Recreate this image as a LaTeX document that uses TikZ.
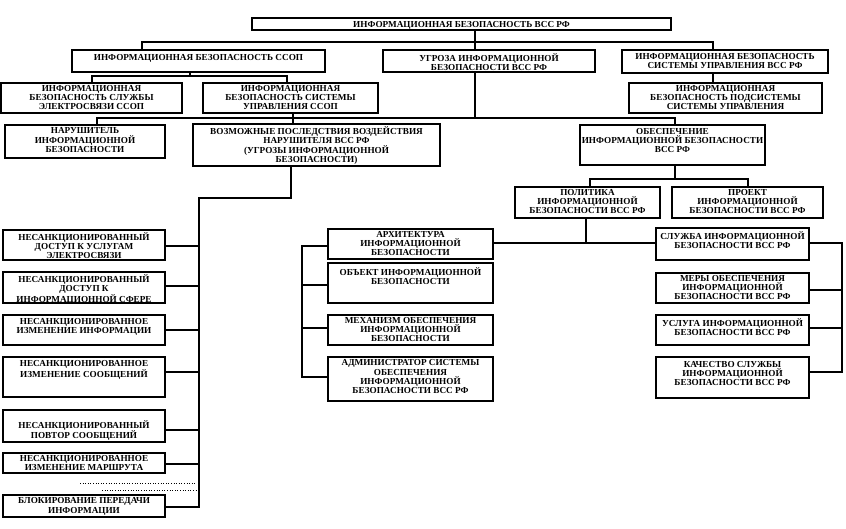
\documentclass[tikz,border=0pt]{standalone}
\usepackage{fontspec}
\setmainfont{Liberation Serif}
\begin{document}
\begin{tikzpicture}[x=1pt,y=-1pt,
  boxst/.style={draw, line width=1.6pt, inner sep=0pt, outer sep=0pt},
  txt/.style={align=center, inner sep=0pt, font=\fontsize{9.2}{9.3}\selectfont\bfseries},
  conn/.style={line width=1.5pt},
  dots/.style={line width=0.8pt, dash pattern=on 1pt off 1.6pt}]
\useasboundingbox (0,0) rectangle (846,528);
\newcommand\bx[7]{%
  \node[boxst, anchor=north west, minimum width={#4pt-#2pt}, minimum height={#5pt-#3pt}] (#1) at (#2,#3) {};
  \node[txt, anchor=north] (#1t) at ([yshift=-#6pt]#1.north) {#7};}
% top levels
\bx{T}{252}{18}{671}{30}{3}{ИНФОРМАЦИОННАЯ БЕЗОПАСНОСТЬ ВСС РФ}
\bx{S}{72}{50}{325}{72}{4}{ИНФОРМАЦИОННАЯ БЕЗОПАСНОСТЬ ССОП}
\bx{U}{383}{50}{595}{72}{3}{УГРОЗА ИНФОРМАЦИОННОЙ\\БЕЗОПАСНОСТИ ВСС РФ}
\bx{V}{622}{50}{828}{73}{3}{ИНФОРМАЦИОННАЯ БЕЗОПАСНОСТЬ\\СИСТЕМЫ УПРАВЛЕНИЯ ВСС РФ}
\bx{S1}{1}{83}{182}{113}{2}{ИНФОРМАЦИОННАЯ\\БЕЗОПАСНОСТЬ СЛУЖБЫ\\ЭЛЕКТРОСВЯЗИ ССОП}
\bx{S2}{203}{83}{378}{113}{2}{ИНФОРМАЦИОННАЯ\\БЕЗОПАСНОСТЬ СИСТЕМЫ\\УПРАВЛЕНИЯ ССОП}
\bx{V1}{629}{83}{822}{113}{2}{ИНФОРМАЦИОННАЯ\\БЕЗОПАСНОСТЬ  ПОДСИСТЕМЫ\\СИСТЕМЫ УПРАВЛЕНИЯ}
\bx{N}{5}{125}{165}{158}{2.5}{НАРУШИТЕЛЬ\\ИНФОРМАЦИОННОЙ\\БЕЗОПАСНОСТИ}
\bx{P}{193}{124}{440}{166}{2.5}{ВОЗМОЖНЫЕ ПОСЛЕДСТВИЯ ВОЗДЕЙСТВИЯ\\НАРУШИТЕЛЯ ВСС РФ\\(УГРОЗЫ ИНФОРМАЦИОННОЙ\\БЕЗОПАСНОСТИ)}
\bx{O}{580}{125}{765}{165}{3}{ОБЕСПЕЧЕНИЕ\\ИНФОРМАЦИОННОЙ БЕЗОПАСНОСТИ\\ВСС РФ}
\bx{PL}{515}{187}{660}{218}{2}{ПОЛИТИКА\\ИНФОРМАЦИОННОЙ\\БЕЗОПАСНОСТИ ВСС РФ}
\bx{PR}{672}{187}{823}{218}{2}{ПРОЕКТ\\ИНФОРМАЦИОННОЙ\\БЕЗОПАСНОСТИ ВСС РФ}
% middle column
\bx{A1}{328}{229}{493}{259}{2}{АРХИТЕКТУРА\\ИНФОРМАЦИОННОЙ\\БЕЗОПАСНОСТИ}
\bx{A2}{328}{263}{493}{303}{4}{ОБЪЕКТ ИНФОРМАЦИОННОЙ\\БЕЗОПАСНОСТИ}
\bx{A3}{328}{315}{493}{345}{2}{МЕХАНИЗМ ОБЕСПЕЧЕНИЯ\\ИНФОРМАЦИОННОЙ\\БЕЗОПАСНОСТИ}
\bx{A4}{328}{357}{493}{401}{2.5}{АДМИНИСТРАТОР  СИСТЕМЫ\\ОБЕСПЕЧЕНИЯ\\ИНФОРМАЦИОННОЙ\\БЕЗОПАСНОСТИ ВСС РФ}
% right column
\bx{R1}{656}{228}{809}{260}{3}{СЛУЖБА ИНФОРМАЦИОННОЙ\\БЕЗОПАСНОСТИ ВСС РФ}
\bx{R2}{656}{273}{809}{303}{2}{МЕРЫ ОБЕСПЕЧЕНИЯ\\ИНФОРМАЦИОННОЙ\\БЕЗОПАСНОСТИ ВСС РФ}
\bx{R3}{656}{315}{809}{345}{3}{УСЛУГА ИНФОРМАЦИОННОЙ\\БЕЗОПАСНОСТИ ВСС РФ}
\bx{R4}{656}{357}{809}{398}{4}{КАЧЕСТВО СЛУЖБЫ\\ИНФОРМАЦИОННОЙ\\БЕЗОПАСНОСТИ ВСС РФ}
% left column
\bx{L1}{3}{230}{165}{260}{2}{НЕСАНКЦИОНИРОВАННЫЙ\\ДОСТУП К УСЛУГАМ\\ЭЛЕКТРОСВЯЗИ}
\bx{L2}{3}{272}{165}{303}{2}{НЕСАНКЦИОНИРОВАННЫЙ\\ДОСТУП К\\ИНФОРМАЦИОННОЙ СФЕРЕ}
\bx{L3}{3}{315}{165}{345}{3}{НЕСАНКЦИОНИРОВАННОЕ\\ИЗМЕНЕНИЕ  ИНФОРМАЦИИ}
\bx{L4}{3}{357}{165}{397}{3}{НЕСАНКЦИОНИРОВАННОЕ\\ИЗМЕНЕНИЕ СООБЩЕНИЙ}
\bx{L5}{3}{410}{165}{442}{10}{НЕСАНКЦИОНИРОВАННЫЙ\\ПОВТОР СООБЩЕНИЙ}
\bx{L6}{3}{453}{165}{473}{2}{НЕСАНКЦИОНИРОВАННОЕ\\ИЗМЕНЕНИЕ МАРШРУТА}
\bx{L7}{3}{495}{165}{517}{2.5}{БЛОКИРОВАНИЕ ПЕРЕДАЧИ\\ИНФОРМАЦИИ}
% connectors: top level
\coordinate (j0) at (475,42);
\coordinate (j1) at (142,42);
\coordinate (j2) at (713,42);
\draw[conn] (j0 |- T.south) -- (j0 |- U.north);
\draw[conn] (j1 |- S.north) -- (j1) -- (j2) -- (j2 |- V.north);
\draw[conn] (j2 |- V.south) -- (j2 |- V1.north);
\coordinate (j3) at (190,76);
\coordinate (j4) at (92,76);
\coordinate (j5) at (287,76);
\draw[conn] (j3 |- S.south) -- (j3);
\draw[conn] (j4 |- S1.north) -- (j4) -- (j5) -- (j5 |- S2.north);
% second level
\coordinate (k0) at (475,118);
\coordinate (k1) at (97,118);
\coordinate (k2) at (675,118);
\coordinate (k3) at (293,118);
\draw[conn] (k0 |- U.south) -- (k0);
\draw[conn] (k1 |- N.north) -- (k1) -- (k2) -- (k2 |- O.north);
\draw[conn] (k3 |- S2.south) -- (k3 |- P.north);
% provision branch
\coordinate (m0) at (675,179);
\coordinate (m1) at (590,179);
\coordinate (m2) at (748,179);
\draw[conn] (m0 |- O.south) -- (m0);
\draw[conn] (m1 |- PL.north) -- (m1) -- (m2) -- (m2 |- PR.north);
\coordinate (n0) at (586,243);
\draw[conn] (n0 |- PL.south) -- (n0);
\draw[conn] (n0 -| A1.east) -- (n0 -| R1.west);
% middle bus
\coordinate (aa1) at (302,246);
\coordinate (aa2) at (302,285);
\coordinate (aa3) at (302,328);
\coordinate (aa4) at (302,377);
\draw[conn] (aa1 -| A1.west) -- (aa1) -- (aa4) -- (aa4 -| A4.west);
\draw[conn] (aa2) -- (aa2 -| A2.west);
\draw[conn] (aa3) -- (aa3 -| A3.west);
% right bus
\coordinate (rr1) at (842,243);
\coordinate (rr2) at (842,290);
\coordinate (rr3) at (842,328);
\coordinate (rr4) at (842,372);
\draw[conn] (rr1 -| R1.east) -- (rr1) -- (rr4) -- (rr4 -| R4.east);
\draw[conn] (rr2) -- (rr2 -| R2.east);
\draw[conn] (rr3) -- (rr3 -| R3.east);
% left bus
\coordinate (p0) at (291,198);
\coordinate (p1) at (199,198);
\coordinate (ll1) at (199,246);
\coordinate (ll2) at (199,286);
\coordinate (ll3) at (199,330);
\coordinate (ll4) at (199,372);
\coordinate (ll5) at (199,430);
\coordinate (ll6) at (199,464);
\coordinate (ll7) at (199,507);
\draw[conn] (p0 |- P.south) -- (p0) -- (p1) -- (ll7) -- (ll7 -| L7.east);
\draw[conn] (ll1) -- (ll1 -| L1.east);
\draw[conn] (ll2) -- (ll2 -| L2.east);
\draw[conn] (ll3) -- (ll3 -| L3.east);
\draw[conn] (ll4) -- (ll4 -| L4.east);
\draw[conn] (ll5) -- (ll5 -| L5.east);
\draw[conn] (ll6) -- (ll6 -| L6.east);
% dotted lines
\coordinate (d1) at (80,483);
\coordinate (d2) at (197,483);
\coordinate (d3) at (102,490);
\coordinate (d4) at (197,490);
\draw[dots] (d1) -- (d2);
\draw[dots] (d3) -- (d4);
\end{tikzpicture}
\end{document}
